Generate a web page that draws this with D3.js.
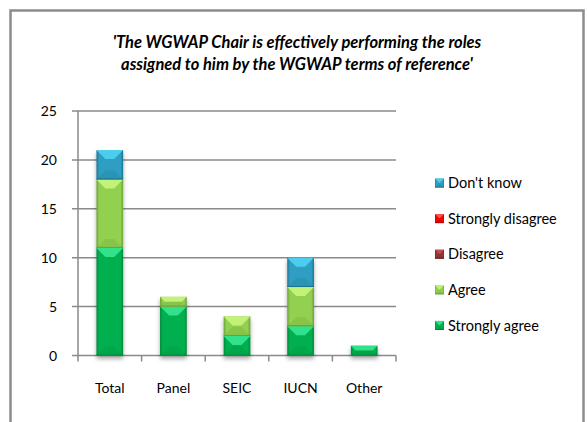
<!DOCTYPE html>
<html>
<head>
<meta charset="utf-8">
<script src="https://cdn.jsdelivr.net/npm/d3@7"></script>
<style>
  body { margin: 0; background: #fff; }
  svg { display: block; }
</style>
</head>
<body>
<div class="chart"></div>
<script>
// data
var categories = ["Total", "Panel", "SEIC", "IUCN", "Other"];
var seriesNames = ["Strongly agree", "Agree", "Disagree", "Strongly disagree", "Don't know"];
var stronglyAgree = [11, 5, 2, 3, 1];
var agree = [7, 1, 2, 4, 0];
var disagree = [0, 0, 0, 0, 0];
var stronglyDisagree = [0, 0, 0, 0, 0];
var dontKnow = [3, 0, 0, 3, 0];
var yTicks = [0, 5, 10, 15, 20, 25];
var titleLines = ["'The WGWAP Chair is effectively performing the roles",
                  "assigned to him by the WGWAP terms of reference'"];

// bevel colours: base, light top facet, dark edge
var colors = [
    { base: "#00b050", light: "#35e890", dark: "#00883c" },
    { base: "#92d050", light: "#c9f57c", dark: "#6c9f38" },
    { base: "#953735", light: "#c25451", dark: "#682523" },
    { base: "#ff0000", light: "#ff5a5a", dark: "#b80000" },
    { base: "#2f9fc2", light: "#52d2f2", dark: "#1d7390" }
];

var values = [stronglyAgree, agree, disagree, stronglyDisagree, dontKnow];
var rows = categories.map(function (c, i) {
    var r = { category: c };
    seriesNames.forEach(function (s, j) { r[s] = values[j][i]; });
    return r;
});

var width = 587, height = 422;
var font = "Lato, 'Open Sans', sans-serif";

const svg = d3.select(".chart").append("svg")
    .attr("width", width)
    .attr("height", height);

var defs = svg.append("defs");
colors.forEach(function (c, i) {
    var g = defs.append("linearGradient").attr("id", "side" + i)
        .attr("x1", 0).attr("x2", 1).attr("y1", 0).attr("y2", 0);
    g.append("stop").attr("offset", 0).attr("stop-color", c.dark);
    g.append("stop").attr("offset", 0.1).attr("stop-color", c.base);
    g.append("stop").attr("offset", 0.9).attr("stop-color", c.base);
    g.append("stop").attr("offset", 1).attr("stop-color", c.dark);
});
var shadow = defs.append("filter").attr("id", "shadow")
    .attr("x", "-30%").attr("y", "-10%").attr("width", "160%").attr("height", "130%");
shadow.append("feGaussianBlur").attr("in", "SourceAlpha").attr("stdDeviation", 2);
shadow.append("feOffset").attr("dy", 3).attr("result", "blur");
shadow.append("feComponentTransfer").append("feFuncA").attr("type", "linear").attr("slope", 0.35);
var merge = shadow.append("feMerge");
merge.append("feMergeNode");
merge.append("feMergeNode").attr("in", "SourceGraphic");

// outer frame
svg.append("rect")
    .attr("x", 10.5).attr("y", 10.5)
    .attr("width", 573).attr("height", 430)
    .attr("fill", "none")
    .attr("stroke", "#8c8c8c")
    .attr("stroke-width", 2.5);

// title
svg.append("text")
    .attr("font-family", font)
    .attr("font-weight", "bold")
    .attr("font-style", "italic")
    .attr("font-size", 16.5)
    .attr("fill", "#000")
    .attr("text-anchor", "middle")
    .selectAll("tspan")
    .data(titleLines)
    .join("tspan")
    .attr("x", 297)
    .attr("y", (d, i) => 48 + i * 22)
    .text(d => d);

var x = d3.scaleBand()
    .domain(categories)
    .range([78, 396])
    .paddingInner(0.58)
    .paddingOuter(0.29);

var y = d3.scaleLinear()
    .domain([0, 25])
    .range([355.5, 111]);

// gridlines
svg.append("g")
    .selectAll("line")
    .data(yTicks)
    .join("line")
    .attr("x1", 72).attr("x2", 396)
    .attr("y1", d => y(d)).attr("y2", d => y(d))
    .attr("stroke", "#8a8a8a")
    .attr("stroke-width", 1.5);

// y axis line
svg.append("line")
    .attr("x1", 78).attr("x2", 78)
    .attr("y1", y(25)).attr("y2", y(0) + 1)
    .attr("stroke", "#8a8a8a")
    .attr("stroke-width", 1.5);

// x ticks at band boundaries
var xBounds = categories.map(c => x(c) - x.step() * x.paddingInner() / 2);
xBounds.push(396);
svg.append("g")
    .selectAll("line")
    .data(xBounds)
    .join("line")
    .attr("x1", d => d).attr("x2", d => d)
    .attr("y1", y(0)).attr("y2", y(0) + 6)
    .attr("stroke", "#8a8a8a")
    .attr("stroke-width", 1.5);

// y tick labels
svg.append("g")
    .attr("font-family", font)
    .attr("font-size", 14)
    .attr("text-anchor", "end")
    .selectAll("text")
    .data(yTicks)
    .join("text")
    .attr("x", 57)
    .attr("y", d => y(d))
    .attr("dy", "0.36em")
    .text(d => d);

// x labels
svg.append("g")
    .attr("font-family", font)
    .attr("font-size", 14)
    .attr("text-anchor", "middle")
    .selectAll("text")
    .data(categories)
    .join("text")
    .attr("x", d => x(d) + x.bandwidth() / 2)
    .attr("y", 393)
    .text(d => d);

var stack = d3.stack().keys(seriesNames);
var series = stack(rows);

function bevel(g, x0, x1, y0, y1, c, i) {
    var w = x1 - x0, h = y1 - y0;
    if (h <= 0) return;
    var d = Math.min(9, h / 2, w / 2);
    g.append("rect")
        .attr("x", x0).attr("y", y0)
        .attr("width", w).attr("height", h)
        .attr("fill", "url(#side" + i + ")");
    // top light facet
    g.append("path")
        .attr("d", `M${x0},${y0}L${x1},${y0}L${x1 - d},${y0 + d}L${x0 + d},${y0 + d}Z`)
        .attr("fill", c.light)
        .attr("opacity", 0.9);
    // bottom darker facet
    g.append("path")
        .attr("d", `M${x0},${y1}L${x1},${y1}L${x1 - d},${y1 - d}L${x0 + d},${y1 - d}Z`)
        .attr("fill", c.dark)
        .attr("opacity", 0.25);
    g.append("line")
        .attr("x1", x0).attr("x2", x1)
        .attr("y1", y1 - 0.5).attr("y2", y1 - 0.5)
        .attr("stroke", c.dark)
        .attr("stroke-width", 1);
}

// bars
var barG = svg.append("g").attr("filter", "url(#shadow)");
categories.forEach(function (cat, ci) {
    var col = barG.append("g");
    series.forEach(function (s, si) {
        var v = s[ci];
        if (v[1] - v[0] <= 0) return;
        bevel(col, x(cat), x(cat) + x.bandwidth(), y(v[1]), y(v[0]), colors[si], si);
    });
});

// legend, top to bottom in reverse stack order
var legendOrder = seriesNames.map((s, i) => i).reverse();
var legend = svg.append("g")
    .selectAll("g")
    .data(legendOrder)
    .join("g")
    .attr("transform", (d, i) => `translate(435,${183 + i * 35.6})`);

legend.each(function (si) {
    bevel(d3.select(this), 0, 9, -4.5, 4.5, colors[si], si);
});

legend.append("text")
    .attr("x", 13)
    .attr("dy", "0.36em")
    .attr("font-family", font)
    .attr("font-size", 14.5)
    .text(d => seriesNames[d]);
</script>
</body>
</html>
